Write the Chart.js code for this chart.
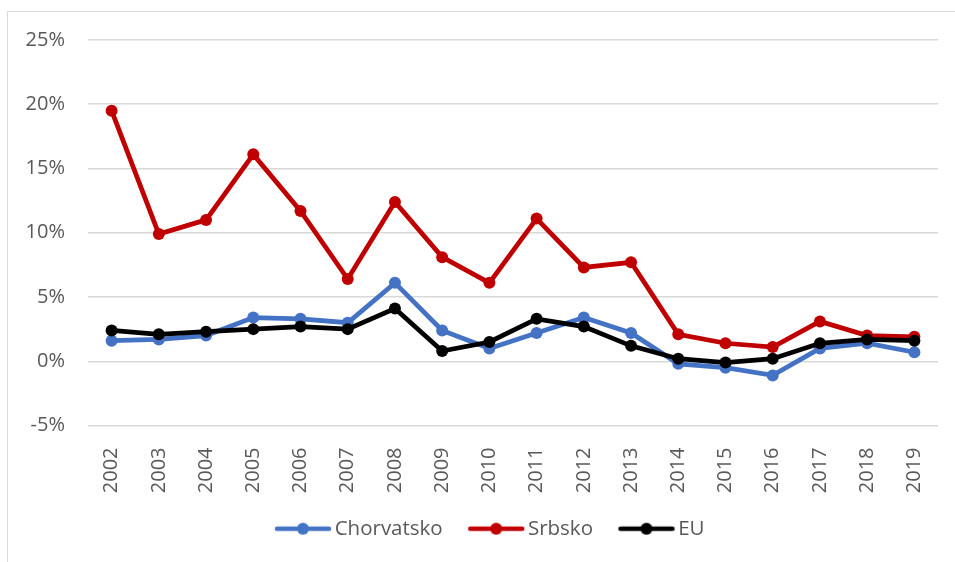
<!DOCTYPE html>
<html>
<head>
<meta charset="utf-8">
<script src="https://cdn.jsdelivr.net/npm/chart.js@4/dist/chart.umd.min.js"></script>
<style>
  html, body { margin: 0; padding: 0; background: #fff; }
  #wrap { width: 955px; height: 562px; }
</style>
</head>
<body>
<div id="wrap"><canvas id="chart-area" width="955" height="562"></canvas></div>
<script>
var years = ['2002','2003','2004','2005','2006','2007','2008','2009','2010','2011','2012','2013','2014','2015','2016','2017','2018','2019'];
var chorvatsko = [1.6, 1.7, 2.0, 3.4, 3.3, 3.0, 6.1, 2.4, 1.0, 2.2, 3.4, 2.2, -0.2, -0.5, -1.1, 1.0, 1.4, 0.7];
var srbsko = [19.5, 9.9, 11.0, 16.1, 11.7, 6.4, 12.4, 8.1, 6.1, 11.1, 7.3, 7.7, 2.1, 1.4, 1.1, 3.1, 2.0, 1.9];
var eu = [2.4, 2.1, 2.3, 2.5, 2.7, 2.5, 4.1, 0.8, 1.5, 3.3, 2.7, 1.2, 0.2, -0.1, 0.2, 1.4, 1.7, 1.6];
var yTicks = [-5, 0, 5, 10, 15, 20, 25];

var blue = '#4472C4', red = '#C00000', black = '#000000';
var gray = '#595959';

// legend icon: line with a dot, drawn into a small canvas
function legendIcon(color) {
    var c = document.createElement('canvas');
    c.width = 150; c.height = 16;
    var g = c.getContext('2d');
    g.strokeStyle = color; g.fillStyle = color;
    g.lineWidth = 4.5; g.lineCap = 'round';
    g.beginPath(); g.moveTo(60, 8); g.lineTo(112, 8); g.stroke();
    g.beginPath(); g.arc(86, 8, 6, 0, Math.PI * 2); g.fill();
    return c;
}

// light frame around the chart area (runs off the right and bottom edge)
var framePlugin = {
    id: 'frame',
    afterLayout: function(chart) {
        // legend sits a bit right of the plot centre in the original
        chart.legend.left += 13;
        chart.legend.right += 13;
    },
    beforeDraw: function(chart) {
        var ctx = chart.ctx;
        ctx.save();
        ctx.strokeStyle = '#D9D9D9';
        ctx.lineWidth = 1;
        ctx.strokeRect(7.5, 11.5, 1200, 1200);
        ctx.restore();
    }
};

function line(label, data, color, order) {
    return {
        label: label,
        data: data,
        borderColor: color,
        backgroundColor: color,
        borderWidth: 4.75,
        pointRadius: 6,
        pointHoverRadius: 6,
        pointBorderWidth: 0,
        pointStyle: 'circle',
        tension: 0,
        order: order
    };
}

var config = {
    type: 'line',
    data: {
        labels: years,
        datasets: [
            line('Chorvatsko', chorvatsko, blue, 3),
            line('Srbsko', srbsko, red, 2),
            line('EU', eu, black, 1)
        ]
    },
    options: {
        responsive: false,
        animation: false,
        layout: { padding: { top: 40, left: 0, right: 17, bottom: 13 } },
        plugins: {
            tooltip: { enabled: false },
            legend: {
                position: 'bottom',
                labels: {
                    usePointStyle: true,
                    pointStyleWidth: 65,
                    padding: 10,
                    color: gray,
                    font: { family: 'Open Sans', size: 20.5 },
                    generateLabels: function(chart) {
                        return chart.data.datasets.map(function(ds, i) {
                            return {
                                text: ds.label,
                                pointStyle: legendIcon(ds.borderColor),
                                fillStyle: ds.borderColor,
                                strokeStyle: ds.borderColor,
                                lineWidth: 0,
                                fontColor: gray,
                                datasetIndex: i
                            };
                        });
                    }
                }
            }
        },
        scales: {
            x: {
                offset: true,
                grid: { display: false },
                border: { display: false },
                ticks: {
                    autoSkip: false,
                    minRotation: 90,
                    maxRotation: 90,
                    padding: 14,
                    color: gray,
                    font: { family: 'Open Sans', size: 20 }
                },
                afterFit: function(scale) { scale.height = 83; }
            },
            y: {
                min: -5,
                max: 25,
                afterBuildTicks: function(scale) {
                    scale.ticks = yTicks.map(function(v) { return { value: v }; });
                },
                grid: { color: '#D9D9D9', lineWidth: 1.5, drawTicks: false },
                border: { display: false },
                ticks: {
                    padding: 23,
                    color: gray,
                    font: { family: 'Open Sans', size: 20 },
                    callback: function(v) { return v + '%'; }
                },
                afterFit: function(scale) { scale.width = 88; }
            }
        }
    },
    plugins: [framePlugin]
};

window.onload = function() {
    var ctx = document.getElementById('chart-area').getContext('2d');
    window.myLine = new Chart(ctx, config);
};
</script>
</body>
</html>
